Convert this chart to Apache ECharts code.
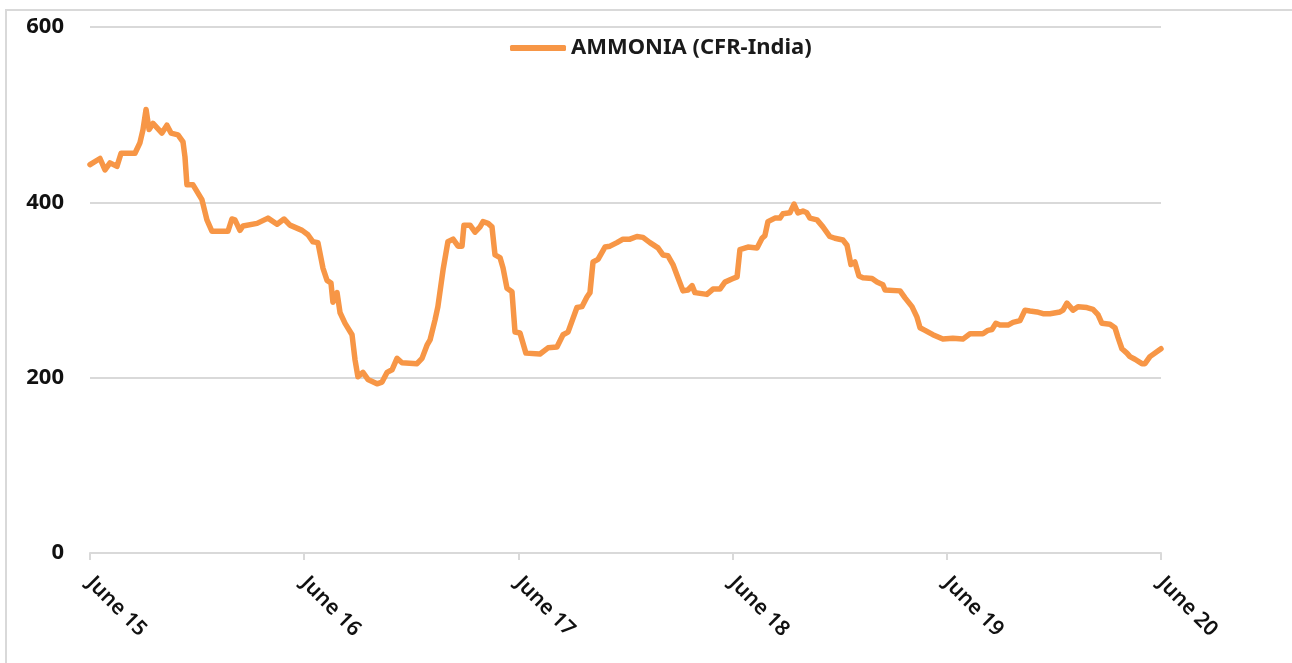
<!DOCTYPE html>
<html>
<head>
<meta charset="utf-8">
<script src="https://cdn.jsdelivr.net/npm/echarts@6/dist/echarts.min.js"></script>
<style>html,body{margin:0;padding:0;background:#fff;}#c{width:1292px;height:663px;}</style>
</head>
<body>
<div id="c"></div>
<script>
// Months elapsed since June 2015 (x position of each observation)
var months = [0.0,0.56,0.84,1.12,1.51,1.74,2.52,2.80,2.97,3.14,3.31,3.53,4.03,4.31,4.54,4.93,5.21,5.32,5.43,5.77,
6.27,6.55,6.83,7.73,7.95,8.12,8.40,8.57,9.36,9.97,10.48,10.87,11.20,11.88,12.21,12.49,12.77,13.05,13.28,13.50,
13.61,13.84,14.01,14.29,14.68,14.85,15.01,15.29,15.57,16.08,16.36,16.64,16.92,17.20,17.48,18.32,18.60,18.88,19.05,19.33,
19.49,19.78,20.05,20.34,20.62,20.84,20.95,21.29,21.57,21.85,22.02,22.30,22.52,22.69,22.97,23.14,23.36,23.64,23.81,24.09,
24.42,25.21,25.66,26.16,26.50,26.78,27.28,27.56,27.84,28.01,28.18,28.46,28.85,29.13,29.52,29.86,30.25,30.64,30.98,31.37,
31.82,32.10,32.38,32.66,32.94,33.22,33.50,33.73,33.89,34.56,34.90,35.29,35.57,36.02,36.25,36.41,36.86,37.37,37.65,37.81,
37.98,38.37,38.65,38.82,39.21,39.44,39.66,39.94,40.16,40.33,40.73,41.06,41.45,41.73,42.18,42.41,42.63,42.85,43.08,43.30,
43.81,44.09,44.42,44.54,45.38,45.66,46.05,46.33,46.50,46.78,47.22,47.78,48.34,48.90,49.30,50.02,50.31,50.53,50.75,50.98,
51.43,51.71,52.10,52.38,52.66,53.05,53.39,53.78,54.34,54.51,54.73,55.07,55.35,55.85,56.19,56.47,56.69,57.14,57.42,57.59,
57.81,58.09,58.26,58.54,58.93,59.10,59.38,60.0];
// AMMONIA (CFR-India) price
var ammonia = [443,450,437,445,441,456,456,468,483,506,483,490,479,488,479,477,469,452,420,420,
403,380,367,367,381,380,368,373,376,382,375,381,374,368,363,355,354,325,311,308,
286,297,274,262,249,220,201,206,198,193,195,206,209,222,217,216,222,237,243,266,
281,323,355,358,350,350,374,374,366,372,378,376,372,340,337,325,302,298,252,251,
228,227,234,235,249,252,280,281,292,297,332,335,349,350,354,358,358,361,360,354,
348,340,339,329,314,299,300,305,297,295,301,301,309,313,315,346,349,348,359,362,
378,382,382,387,388,398,388,390,388,382,380,372,361,359,357,351,329,332,316,314,
313,309,306,300,299,291,281,269,257,254,249,244,245,244,250,250,254,255,262,260,
260,263,265,277,276,275,273,273,275,277,285,277,281,280,278,272,262,261,257,246,
233,228,224,221,216,216,224,233];
var tickLabels = ['June 15','June 16','June 17','June 18','June 19','June 20'];
var seriesName = 'AMMONIA (CFR-India)';

var data = months.map(function(m,i){return [m, ammonia[i]];});
var chart = echarts.init(document.getElementById('c'));
chart.setOption({
  animation:false,
  backgroundColor:'#fff',
  graphic:[{type:'rect',shape:{x:6,y:10,width:1400,height:800},style:{fill:'none',stroke:'#d9d9d9',lineWidth:2},silent:true}],
  legend:{data:[seriesName],left:505,top:32,itemWidth:56,itemHeight:6,itemGap:5,
    icon:'roundRect',
    textStyle:{fontFamily:'Noto Sans',fontWeight:'bold',fontSize:22,color:'#1a1a1a'}},
  grid:{left:90,right:131,top:27,bottom:110,containLabel:false},
  xAxis:{type:'value',min:0,max:60,interval:12,
    axisLine:{show:true,lineStyle:{color:'#d9d9d9',width:2}},
    axisTick:{show:true,length:7,lineStyle:{color:'#d9d9d9',width:2}},
    splitLine:{show:false},
    axisLabel:{rotate:-45,margin:27,fontFamily:'Noto Sans',fontWeight:600,fontSize:21,color:'#111',
      formatter:function(v){return tickLabels[Math.round(v/12)];}}},
  yAxis:{type:'value',min:0,max:600,interval:200,
    axisLine:{show:false},axisTick:{show:false},
    splitLine:{lineStyle:{color:'#d9d9d9',width:2}},
    axisLabel:{margin:26,fontFamily:'Noto Sans',fontWeight:'bold',fontSize:22,color:'#111'}},
  series:[{name:seriesName,type:'line',data:data,showSymbol:false,symbol:'none',
    lineStyle:{color:'#F79646',width:5.5,cap:'round',join:'round'},itemStyle:{color:'#F79646'}}]
});
</script>
</body>
</html>
